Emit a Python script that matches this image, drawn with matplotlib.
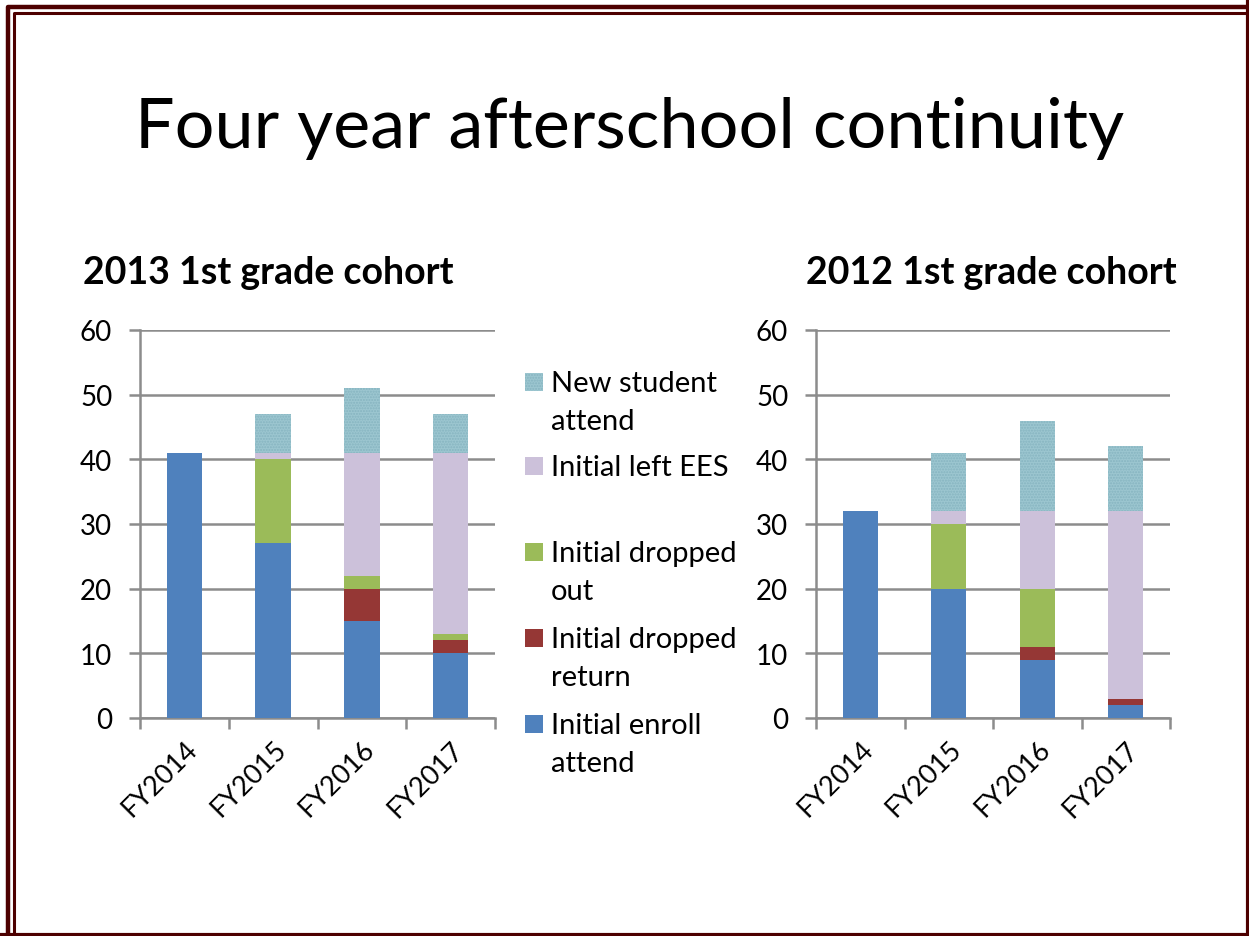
import matplotlib.pyplot as plt
from matplotlib.patches import Rectangle
from matplotlib.lines import Line2D

plt.rcParams['font.family'] = ['Lato', 'DejaVu Sans']

years = ['FY2014', 'FY2015', 'FY2016', 'FY2017']
series = ['Initial enroll attend', 'Initial dropped return', 'Initial dropped out',
          'Initial left EES', 'New student attend']
legend_labels = ['Initial enroll\nattend', 'Initial dropped\nreturn', 'Initial dropped\nout',
                 'Initial left EES', 'New student\nattend']

# 2013 1st grade cohort
c2013_enroll = [41, 27, 15, 10]
c2013_return = [0, 0, 5, 2]
c2013_dropped = [0, 13, 2, 1]
c2013_left = [0, 1, 19, 28]
c2013_new = [0, 6, 10, 6]

# 2012 1st grade cohort
c2012_enroll = [32, 20, 9, 2]
c2012_return = [0, 0, 2, 1]
c2012_dropped = [0, 10, 9, 0]
c2012_left = [0, 2, 12, 29]
c2012_new = [0, 9, 14, 10]

colors = ['#4f81bd', '#953735', '#9bbb59', '#ccc1da', '#9cc6d0']
grid_c = '#8c8c8c'

W, H = 1249, 937
fig = plt.figure(figsize=(W / 100, H / 100), dpi=100)


def draw(ax, data):
    bottom = [0, 0, 0, 0]
    x = range(len(years))
    for i, vals in enumerate(data):
        if i == 4:
            ax.bar(x, vals, 0.4, bottom=bottom, color=colors[i], edgecolor='#86b4c0',
                   hatch='......', linewidth=0, zorder=3)
        else:
            ax.bar(x, vals, 0.4, bottom=bottom, color=colors[i], linewidth=0, zorder=3)
        bottom = [b + v for b, v in zip(bottom, vals)]
    ax.set_ylim(0, 60)
    ax.set_xlim(-0.5, 3.5)
    ax.set_yticks(range(0, 61, 10))
    ax.yaxis.grid(True, color=grid_c, linewidth=1.8, zorder=0)
    ax.set_xticks(range(4))
    ax.set_xticklabels(years, rotation=45, ha='right', rotation_mode='anchor', fontsize=19.5)
    ax.set_xticks([-0.5, 0.5, 1.5, 2.5, 3.5], minor=True)
    ax.tick_params(axis='x', which='major', length=0, pad=13)
    ax.tick_params(axis='x', which='minor', length=8, width=1.8, color=grid_c)
    ax.tick_params(axis='y', length=8, width=1.8, color=grid_c, labelsize=20, pad=12)
    for s in ['top', 'right']:
        ax.spines[s].set_visible(False)
    for s in ['left', 'bottom']:
        ax.spines[s].set_color(grid_c)
        ax.spines[s].set_linewidth(1.8)
    ax.set_axisbelow(True)


ax1 = fig.add_axes([140 / W, 1 - 719 / H, 355 / W, 388 / H])
draw(ax1, [c2013_enroll, c2013_return, c2013_dropped, c2013_left, c2013_new])
ax2 = fig.add_axes([816 / W, 1 - 719 / H, 354 / W, 388 / H])
draw(ax2, [c2012_enroll, c2012_return, c2012_dropped, c2012_left, c2012_new])

fig.text(630 / W, 1 - 128 / H, 'Four year afterschool continuity', fontsize=50.5,
         ha='center', va='center')
fig.text(268 / W, 1 - 273 / H, '2013 1st grade cohort', fontsize=27, fontweight='bold',
         ha='center', va='center')
fig.text(991 / W, 1 - 273 / H, '2012 1st grade cohort', fontsize=27, fontweight='bold',
         ha='center', va='center')

# legend, top to bottom
leg_y = [383, 467, 553, 639, 725]
for k, y in enumerate(leg_y):
    i = 4 - k
    hatch = '......' if i == 4 else None
    fig.add_artist(Rectangle((525 / W, 1 - (y + 9) / H), 18 / W, 18 / H,
                             transform=fig.transFigure, facecolor=colors[i],
                             edgecolor='#86b4c0' if i == 4 else colors[i],
                             hatch=hatch, linewidth=0))
    fig.text(551 / W, 1 - (y - 12) / H, legend_labels[i], fontsize=21, ha='left',
             va='top', linespacing=1.58)

# slide border
bc = '#4d0000'
for x0, y0, x1, y1, lw in [(8, 8, 1260, 1260, 3.2), (13.5, 13.5, 1247.5, 935.5, 2.2)]:
    fig.add_artist(Line2D([x0 / W, x0 / W, x1 / W], [0, 1 - y0 / H, 1 - y0 / H],
                          transform=fig.transFigure, color=bc, linewidth=lw))
fig.add_artist(Line2D([0, 1247.5 / W, 1247.5 / W], [1 - 936 / H, 1 - 936 / H, 1],
                      transform=fig.transFigure, color=bc, linewidth=3))

fig.savefig('out.png', dpi=100)
